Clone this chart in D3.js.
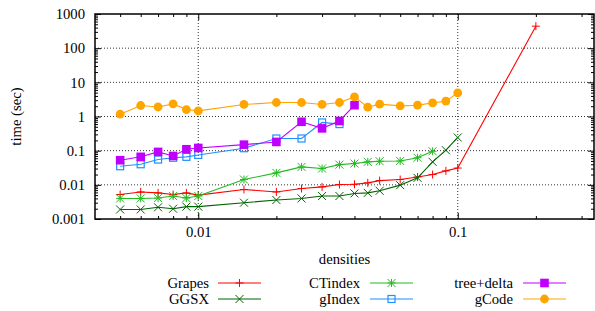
<html>
<head>
<style>
  body { margin: 0; background: #fff; }
  svg text { font-family: "Liberation Serif", "DejaVu Serif", serif; font-size: 14.7px; fill: #000; }
</style>
</head>
<body>
<div id="chart"></div>
<script src="https://d3js.org/d3.v7.min.js"></script>
<script>
  const width = 595;
  const height = 311;

  // densities along the x axis
  const densities = [0.005, 0.006, 0.007, 0.008, 0.009, 0.01, 0.015, 0.02, 0.025, 0.03,
    0.035, 0.04, 0.045, 0.05, 0.06, 0.07, 0.08, 0.09, 0.1, 0.2];

  // time (sec) per method, in density order
  const grapes = [0.0052, 0.0062, 0.0058, 0.0052, 0.0058, 0.005, 0.0073, 0.0062, 0.0078, 0.0087,
    0.0102, 0.0104, 0.0114, 0.0133, 0.0143, 0.017, 0.020, 0.0256, 0.031, 440];
  const ggsx = [0.0019, 0.0019, 0.0022, 0.002, 0.0023, 0.0023, 0.003, 0.0036, 0.004, 0.0047,
    0.0047, 0.0056, 0.0058, 0.0067, 0.0098, 0.016, 0.047, 0.103, 0.243];
  const ctindex = [0.004, 0.004, 0.0041, 0.0047, 0.0041, 0.0047, 0.0143, 0.0224, 0.0335, 0.030,
    0.039, 0.042, 0.047, 0.049, 0.050, 0.062, 0.096];
  const gindex = [0.035, 0.040, 0.055, 0.062, 0.066, 0.075, 0.118, 0.227, 0.227, 0.67, 0.60];
  const treeDelta = [0.0526, 0.066, 0.092, 0.070, 0.11, 0.12, 0.15, 0.18, 0.70, 0.45, 0.74, 2.14];
  const gcode = [1.17, 2.1, 1.9, 2.34, 1.6, 1.46, 2.25, 2.57, 2.57, 2.25, 2.57, 3.75, 1.87, 2.3,
    2.04, 2.14, 2.5, 2.8, 4.9];

  const yTicks = [1000, 100, 10, 1, 0.1, 0.01, 0.001];
  const xTicks = [0.01, 0.1];

  const series = [
    {name: 'Grapes', values: grapes, color: '#ff0000', mark: 'plus'},
    {name: 'GGSX', values: ggsx, color: '#006400', mark: 'cross'},
    {name: 'CTindex', values: ctindex, color: '#22bb22', mark: 'star'},
    {name: 'gIndex', values: gindex, color: '#1e90ff', mark: 'box'},
    {name: 'tree+delta', values: treeDelta, color: '#c000ff', mark: 'fbox'},
    {name: 'gCode', values: gcode, color: '#ffa500', mark: 'circle'}
  ];

  const mLeft = 95, mRight = 594, mTop = 14, mBottom = 219;

  const svg = d3.select('#chart').append('svg')
    .attr('width', width).attr('height', height);

  const x = d3.scaleLog().domain([0.004, 0.335]).range([mLeft, mRight]);
  const y = d3.scaleLog().domain([0.001, 1000]).range([mBottom, mTop]);

  // minor tick values
  const xMinor = [];
  [0.001, 0.01, 0.1].forEach(d => { for (let k = 2; k <= 9; k++) xMinor.push(d * k); });
  const xMinorIn = xMinor.filter(v => v > 0.004 && v < 0.335);
  const yMinor = [];
  [0.001, 0.01, 0.1, 1, 10, 100].forEach(d => { for (let k = 2; k <= 9; k++) yMinor.push(d * k); });

  // grid
  const grid = svg.append('g').attr('stroke', '#333').attr('stroke-width', 1).attr('stroke-dasharray', '1,2');
  yTicks.filter(v => v > 0.001 && v < 1000).forEach(v => {
    grid.append('line').attr('x1', mLeft).attr('x2', mRight).attr('y1', y(v)).attr('y2', y(v));
  });
  xTicks.forEach(v => {
    grid.append('line').attr('x1', x(v)).attr('x2', x(v)).attr('y1', mTop).attr('y2', mBottom);
  });

  const noDomain = g => g.select('.domain').remove();

  // axes with inward ticks
  svg.append('g').attr('transform', `translate(${mLeft},0)`)
    .call(d3.axisLeft(y).tickValues(yTicks).tickSize(-6).tickPadding(10).tickFormat(d => String(d)))
    .call(noDomain);
  svg.append('g').attr('transform', `translate(${mLeft},0)`)
    .call(d3.axisLeft(y).tickValues(yMinor).tickSize(-3).tickFormat(''))
    .call(noDomain);
  svg.append('g').attr('transform', `translate(${mRight},0)`)
    .call(d3.axisRight(y).tickValues(yTicks).tickSize(-6).tickFormat(''))
    .call(noDomain);
  svg.append('g').attr('transform', `translate(${mRight},0)`)
    .call(d3.axisRight(y).tickValues(yMinor).tickSize(-3).tickFormat(''))
    .call(noDomain);
  svg.append('g').attr('transform', `translate(0,${mBottom})`)
    .call(d3.axisBottom(x).tickValues(xTicks).tickSize(-6).tickPadding(8).tickFormat(d => String(d)))
    .call(noDomain);
  svg.append('g').attr('transform', `translate(0,${mBottom})`)
    .call(d3.axisBottom(x).tickValues(xMinorIn).tickSize(-3).tickFormat(''))
    .call(noDomain);
  svg.append('g').attr('transform', `translate(0,${mTop})`)
    .call(d3.axisTop(x).tickValues(xTicks).tickSize(-6).tickFormat(''))
    .call(noDomain);
  svg.append('g').attr('transform', `translate(0,${mTop})`)
    .call(d3.axisTop(x).tickValues(xMinorIn).tickSize(-3).tickFormat(''))
    .call(noDomain);

  svg.selectAll('.tick line').attr('stroke', '#000').attr('stroke-width', 1);
  svg.selectAll('.tick text').attr('font-family', null).attr('font-size', null);
  svg.selectAll('g').attr('font-family', null).attr('font-size', null);

  svg.append('rect')
    .attr('x', mLeft).attr('y', mTop).attr('width', mRight - mLeft).attr('height', mBottom - mTop)
    .attr('fill', 'none').attr('stroke', '#000').attr('stroke-width', 1.5);

  // labels
  svg.append('text').attr('x', (mLeft + mRight) / 2).attr('y', 264)
    .attr('text-anchor', 'middle').text('densities');
  svg.append('text').attr('transform', `translate(16,${(mTop + mBottom) / 2}) rotate(-90)`)
    .attr('text-anchor', 'middle').attr('dominant-baseline', 'central').text('time (sec)');

  function drawMark(g, type, cx, cy, color) {
    const s = 4;
    if (type === 'plus' || type === 'star') {
      g.append('path').attr('d', `M${cx - s},${cy}H${cx + s}M${cx},${cy - s}V${cy + s}`)
        .attr('stroke', color).attr('stroke-width', 1).attr('fill', 'none');
    }
    if (type === 'cross' || type === 'star') {
      g.append('path').attr('d', `M${cx - s},${cy - s}L${cx + s},${cy + s}M${cx - s},${cy + s}L${cx + s},${cy - s}`)
        .attr('stroke', color).attr('stroke-width', 1).attr('fill', 'none');
    }
    if (type === 'box') {
      g.append('rect').attr('x', cx - 3.5).attr('y', cy - 3.5).attr('width', 7).attr('height', 7)
        .attr('fill', 'none').attr('stroke', color).attr('stroke-width', 1.2);
    }
    if (type === 'fbox') {
      g.append('rect').attr('x', cx - 4.3).attr('y', cy - 4.3).attr('width', 8.6).attr('height', 8.6)
        .attr('fill', color);
    }
    if (type === 'circle') {
      g.append('circle').attr('cx', cx).attr('cy', cy).attr('r', 4.4).attr('fill', color);
    }
  }

  const line = d3.line().x(d => x(d[0])).y(d => y(d[1]));

  series.forEach(s => {
    const pts = s.values.map((v, i) => [densities[i], v]);
    const g = svg.append('g');
    g.append('path').attr('d', line(pts)).attr('fill', 'none')
      .attr('stroke', s.color).attr('stroke-width', 1.1);
    pts.forEach(p => drawMark(g, s.mark, x(p[0]), y(p[1]), s.color));
  });

  // legend: three columns, two rows
  const legCols = [
    {textX: 209, lineX: 218},
    {textX: 360, lineX: 370},
    {textX: 513, lineX: 523}
  ];
  const legRows = [283, 299];
  series.forEach((s, i) => {
    const c = legCols[Math.floor(i / 2)];
    const ry = legRows[i % 2];
    const g = svg.append('g');
    g.append('text').attr('x', c.textX).attr('y', ry).attr('text-anchor', 'end')
      .attr('dominant-baseline', 'central').text(s.name);
    g.append('line').attr('x1', c.lineX).attr('x2', c.lineX + 43).attr('y1', ry).attr('y2', ry)
      .attr('stroke', s.color).attr('stroke-width', 1.1);
    drawMark(g, s.mark, c.lineX + 21.5, ry, s.color);
  });
</script>
</body>
</html>
